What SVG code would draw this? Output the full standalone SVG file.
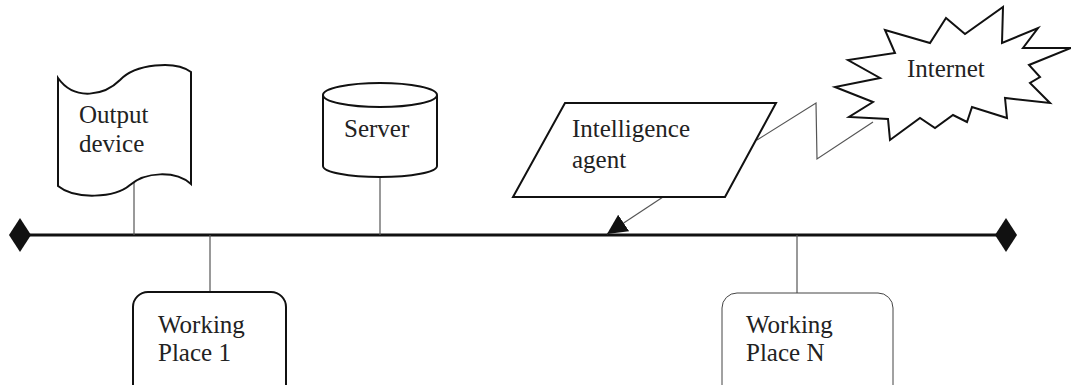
<svg xmlns="http://www.w3.org/2000/svg" width="1071" height="385" viewBox="0 0 1071 385">
<style>
.shape{fill:#fff;stroke:#111;stroke-width:2;stroke-linejoin:miter}
.thin{fill:#fff;stroke:#444;stroke-width:1}
.conn{fill:none;stroke:#555;stroke-width:1.2}
.bus{fill:none;stroke:#111;stroke-width:3}
.lbl{font-size:25px;fill:#222}
</style>
<defs>
<marker id="arr" viewBox="0 0 10 10" refX="10" refY="5" markerWidth="20" markerHeight="21" markerUnits="userSpaceOnUse" orient="auto">
<path d="M0,0 L10,5 L0,10 Z" fill="#111"/>
</marker>
</defs>
<g id="connectors">
<line class="bus" x1="20" y1="235" x2="1006" y2="235"/>
<polygon points="20,218 31,235 20,252 9,235" fill="#111"/>
<polygon points="1006,218 1017,235 1006,252 995,235" fill="#111"/>
<line class="conn" x1="134" y1="180" x2="134" y2="235"/>
<line class="conn" x1="380" y1="177" x2="380" y2="235"/>
<line class="conn" x1="210" y1="235" x2="210" y2="292"/>
<line class="conn" x1="797" y1="235" x2="797" y2="293"/>
<line class="conn" x1="663" y1="197" x2="607" y2="234" marker-end="url(#arr)"/>
<polyline class="conn" points="757,140 816,103 817,159 873,122"/>
</g>
<g font-family="'Liberation Serif', 'Times New Roman', Times, 'DejaVu Serif', serif">
<g id="output-device">
<path class="shape" d="M58,78 C75,102 105,95 120,80 C135,64 175,60 191,72 L191,184 C175,170 145,172 130,185 C115,198 75,200 58,186 Z"/>
<text class="lbl" x="79" y="123">Output</text>
<text class="lbl" x="79" y="152">device</text>
</g>
<g id="server">
<path class="shape" d="M323,95 L323,166 A57,11 0 0 0 437,166 L437,95"/>
<ellipse class="shape" cx="380" cy="95" rx="57" ry="12"/>
<text class="lbl" x="344" y="137">Server</text>
</g>
<g id="intelligence-agent">
<polygon class="shape" points="565,103 776,103 725,197 513,197"/>
<text class="lbl" x="572" y="137">Intelligence</text>
<text class="lbl" x="572" y="168">agent</text>
</g>
<g id="internet">
<polygon class="shape" points="885,30 930,43 946,18 965,34 1003,7 1002,43 1038,28 1023,48 1071,48 1029,65 1040,77 1030,83 1050,103 1005,98 1007,118 972,107 967,122 953,115 935,128 920,118 890,140 888,119 849,117 873,102 835,87 880,78 848,60 895,53"/>
<text class="lbl" x="907" y="77">Internet</text>
</g>
<g id="working-place-1">
<rect class="shape" x="133" y="292" width="153" height="110" rx="15"/>
<text class="lbl" x="158" y="333">Working</text>
<text class="lbl" x="158" y="361">Place 1</text>
</g>
<g id="working-place-n">
<rect class="thin" x="722" y="293" width="171" height="110" rx="15"/>
<text class="lbl" x="746" y="333">Working</text>
<text class="lbl" x="746" y="361">Place N</text>
</g>
</g>
</svg>
